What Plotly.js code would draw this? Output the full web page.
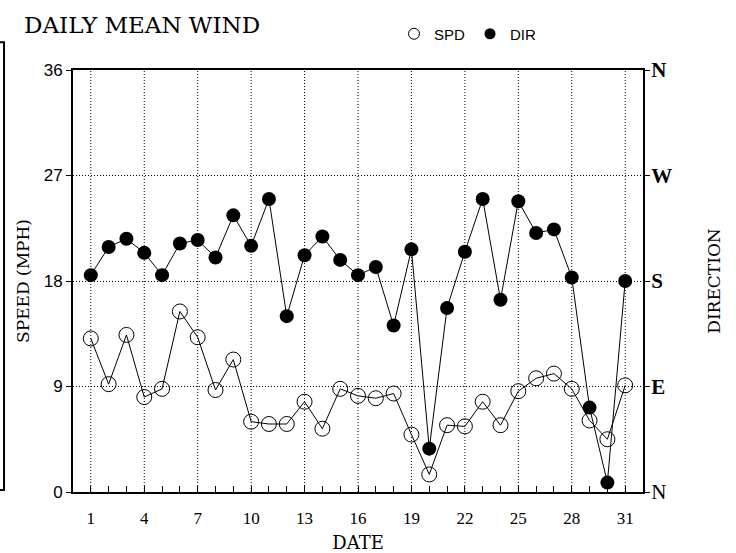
<!DOCTYPE html>
<html>
<head>
<meta charset="utf-8">
<script src="https://cdn.plot.ly/plotly-3.0.1.min.js"></script>
<style>html,body{margin:0;padding:0;background:#fff;}#chart{width:736px;height:553px;}</style>
</head>
<body>
<div id="chart"></div>
<script>
// Day of month
const dates = [1,2,3,4,5,6,7,8,9,10,11,12,13,14,15,16,17,18,19,20,21,22,23,24,25,26,27,28,29,30,31];
// Daily mean wind speed (mph)
const speed = [13.1,9.2,13.4,8.1,8.8,15.4,13.2,8.7,11.3,6.0,5.8,5.8,7.7,5.4,8.8,8.2,8.0,8.4,4.9,1.5,5.7,5.6,7.7,5.7,8.6,9.7,10.1,8.8,6.1,4.5,9.1];
// Daily mean wind direction (degrees, N=0/360, E=90, S=180, W=270)
const direction = [185,209,216,204,185,212,215,200,236,210,250,150,202,218,198,185,192,142,207,37,157,205,250,164,248,221,224,183,72,8,180];

// Labelled dates on the x axis
const xLabelVals = [1,4,7,10,13,16,19,22,25,28,31];
const speedTickVals = [0,9,18,27,36];
const dirTickVals = [0,90,180,270,360];
const dirTickText = ['N','<b>E</b>','<b>S</b>','<b>W</b>','<b>N</b>'];

const serif = 'Liberation Serif, Times New Roman, serif';
const slab = 'DejaVu Serif, serif';
const sans = 'Liberation Sans, Arial, sans-serif';

// tick at every day, label only on the labelled dates
const xTickText = dates.map(d => xLabelVals.includes(d) ? String(d) : '');

const traces = [
  {x: dates, y: speed, type: 'scatter', mode: 'lines+markers', name: 'SPD', showlegend: false,
   line: {color: '#000', width: 1}, marker: {symbol: 'circle-open', size: 15, color: '#000', line: {width: 1}}},
  {x: dates, y: direction, yaxis: 'y2', type: 'scatter', mode: 'lines+markers', name: 'DIR', showlegend: false,
   line: {color: '#000', width: 1}, marker: {symbol: 'circle', size: 14, color: '#000'}},
  {x: [null], y: [null], type: 'scatter', mode: 'markers', name: 'SPD',
   marker: {symbol: 'circle-open', size: 11, color: '#000', line: {width: 1}}},
  {x: [null], y: [null], type: 'scatter', mode: 'markers', name: 'DIR', yaxis: 'y2',
   marker: {symbol: 'circle', size: 11, color: '#000'}}
];

const dotted = '1px,2px';

// vertical dotted gridlines at the labelled dates
const gridShapes = xLabelVals.map(v => ({
  type: 'line', xref: 'x', yref: 'paper', x0: v, x1: v, y0: 0, y1: 1, layer: 'below',
  line: {color: '#000', width: 1, dash: dotted}
}));

const layout = {
  width: 736, height: 553,
  margin: {l: 73, r: 93, t: 70, b: 61},
  paper_bgcolor: '#fff', plot_bgcolor: '#fff',
  title: {text: 'DAILY MEAN WIND', x: 24/736, xanchor: 'left', y: 1 - 25/553, yanchor: 'middle',
          font: {family: slab, size: 23, color: '#000'}},
  showlegend: true,
  legend: {orientation: 'h', x: 394/736, xref: 'container', y: 1 - 34/553, yref: 'container', yanchor: 'middle',
           font: {family: sans, size: 15, color: '#000'}, itemwidth: 30, tracegroupgap: 0,
           bgcolor: 'rgba(0,0,0,0)'},
  xaxis: {range: [0, 32], tickmode: 'array', tickvals: dates, ticktext: xTickText,
          ticks: 'inside', ticklen: 6, tickcolor: '#000', tickwidth: 1,
          showgrid: false,
          showline: true, linecolor: '#000', linewidth: 2, mirror: true, zeroline: false,
          ticklabelstandoff: 10,
          tickfont: {family: serif, size: 17, color: '#000'},
          title: {text: 'DATE', font: {family: slab, size: 18, color: '#000'}, standoff: 10}},
  yaxis: {range: [0, 36], tickvals: speedTickVals, ticks: 'outside', ticklen: 5, tickcolor: '#000',
          showgrid: true, gridcolor: '#000', gridwidth: 1, griddash: dotted,
          showline: true, linecolor: '#000', linewidth: 2, mirror: true, zeroline: false,
          tickfont: {family: sans, size: 17, color: '#000'},
          title: {text: 'SPEED (MPH)', font: {family: slab, size: 17, color: '#000'}, standoff: 10}},
  yaxis2: {range: [0, 360], overlaying: 'y', side: 'right', tickvals: dirTickVals, ticktext: dirTickText,
           ticks: 'outside', ticklen: 6, tickcolor: '#000', showgrid: false, zeroline: false, showline: false,
           ticklabelstandoff: -3,
           tickfont: {family: serif, size: 21, color: '#000'},
           title: {text: 'DIRECTION', font: {family: slab, size: 17, color: '#000'}, standoff: 36}},
  shapes: gridShapes.concat([
    {type: 'path', xref: 'paper', yref: 'paper',
     path: 'M -0.128 1.066 L -0.121 1.066 L -0.121 0.005 L -0.128 0.005',
     line: {color: '#000', width: 2}}
  ])
};

Plotly.newPlot('chart', traces, layout, {displayModeBar: false, staticPlot: true});
</script>
</body>
</html>
